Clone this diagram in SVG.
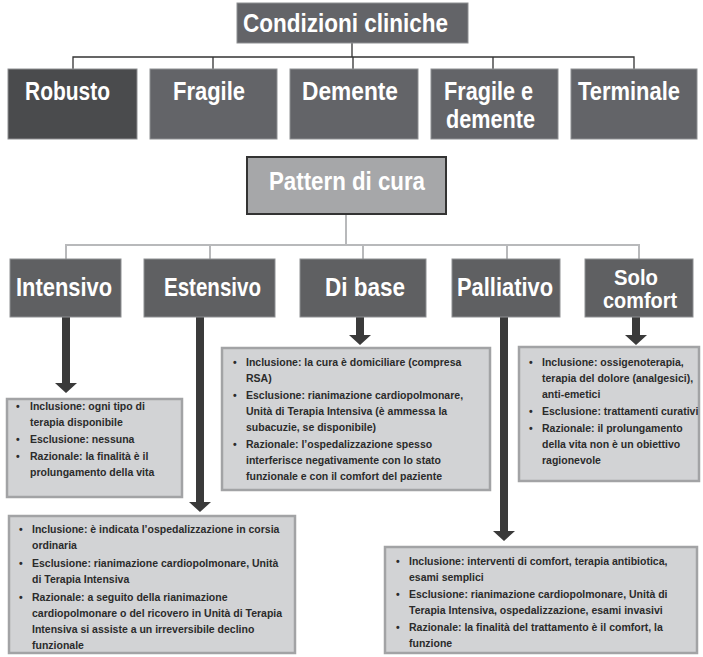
<svg xmlns="http://www.w3.org/2000/svg" width="703" height="657" viewBox="0 0 703 657">
<defs>
<style>
.hd{fill:#636468;stroke:#8e8f92;stroke-width:1}
.dk{fill:#4a4b4d}
.ht{font-family:"Liberation Sans",Arial,sans-serif;font-weight:bold;font-size:25px;fill:#fff}
.sm{font-size:22px}
.cb{fill:#5f6062;stroke:#8e8f92;stroke-width:1}
.tb{fill:#d2d3d5;stroke:#a2a3a5;stroke-width:2.5}
.tx{font-family:"Liberation Sans",Arial,sans-serif;font-size:10.5px;fill:#2b2b2b;font-weight:bold}
.c1{stroke:#333;stroke-width:1.3;fill:none}
.c2{stroke:#b8b9bb;stroke-width:2;fill:none}
.ar{fill:#3a3a3a}
</style>
</defs>
<rect width="703" height="657" fill="#fff"/>
<g id="connectors">
<path class="c1" d="M352 43V57M73 69V57H634V69M213 57V69M353 57V69M493 57V69"/>
<path class="c2" d="M346 214V245M66 259V245H639V259M210 245V259M363 245V259M507 245V259"/>
<path class="ar" d="M62 317h8v66h7l-11 10l-11-10h7z"/>
<path class="ar" d="M196 317h8v185h7l-11 10l-11-10h7z"/>
<path class="ar" d="M356 317h8v18h7l-11 10l-11-10h7z"/>
<path class="ar" d="M500 317h8v214h7l-11 10l-11-10h7z"/>
<path class="ar" d="M632 317h8v18h7l-11 10l-11-10h7z"/>
</g>
<g id="condizioni"><rect class="hd" x="237" y="3" width="231" height="40"/><text class="ht" x="243" y="32" textLength="205" lengthAdjust="spacingAndGlyphs">Condizioni cliniche</text></g>
<g id="robusto"><rect class="hd dk" x="8" y="69" width="129" height="70"/><text class="ht" x="25" y="100" textLength="85" lengthAdjust="spacingAndGlyphs">Robusto</text></g>
<g id="fragile"><rect class="hd" x="150" y="69" width="127" height="70"/><text class="ht" x="173" y="100" textLength="72" lengthAdjust="spacingAndGlyphs">Fragile</text></g>
<g id="demente"><rect class="hd" x="290" y="69" width="128" height="70"/><text class="ht" x="302" y="100" textLength="96" lengthAdjust="spacingAndGlyphs">Demente</text></g>
<g id="fragile-demente"><rect class="hd" x="431" y="69" width="127" height="70"/><text class="ht" x="444" y="100" textLength="89" lengthAdjust="spacingAndGlyphs">Fragile e</text><text class="ht" x="446" y="128" textLength="89" lengthAdjust="spacingAndGlyphs">demente</text></g>
<g id="terminale"><rect class="hd" x="571" y="69" width="126" height="70"/><text class="ht" x="578" y="100" textLength="102" lengthAdjust="spacingAndGlyphs">Terminale</text></g>
<g id="pattern"><rect x="247" y="157" width="199" height="57" fill="#a6a7a9" stroke="#333" stroke-width="2"/><text class="ht" x="269" y="190" textLength="156" lengthAdjust="spacingAndGlyphs">Pattern di cura</text></g>
<g id="intensivo"><rect class="cb" x="10" y="259" width="111" height="58"/><text class="ht" x="16" y="296" textLength="96" lengthAdjust="spacingAndGlyphs">Intensivo</text></g>
<g id="estensivo"><rect class="cb" x="144" y="259" width="131" height="58"/><text class="ht" x="164" y="296" textLength="97" lengthAdjust="spacingAndGlyphs">Estensivo</text></g>
<g id="dibase"><rect class="cb" x="300" y="259" width="126" height="58"/><text class="ht" x="325" y="296" textLength="80" lengthAdjust="spacingAndGlyphs">Di base</text></g>
<g id="palliativo"><rect class="cb" x="452" y="259" width="108" height="58"/><text class="ht" x="457" y="296" textLength="96" lengthAdjust="spacingAndGlyphs">Palliativo</text></g>
<g id="solocomfort"><rect class="cb" x="585" y="259" width="108" height="58"/><text class="ht sm" x="614" y="285" textLength="44" lengthAdjust="spacingAndGlyphs">Solo</text><text class="ht sm" x="603" y="308" textLength="74" lengthAdjust="spacingAndGlyphs">comfort</text></g>
<g id="box-intensivo"><rect class="tb" x="7" y="399" width="175" height="98"/>
<g class="tx"><text x="16" y="410">•</text><text x="30" y="410">Inclusione: ogni tipo di</text><text x="30" y="426">terapia disponibile</text>
<text x="16" y="443">•</text><text x="30" y="443">Esclusione: nessuna</text>
<text x="16" y="460">•</text><text x="30" y="460">Razionale: la finalità è il</text><text x="30" y="476">prolungamento della vita</text></g></g>
<g id="box-dibase"><rect class="tb" x="222" y="348" width="268" height="142"/>
<g class="tx"><text x="233" y="366">•</text><text x="246" y="366">Inclusione: la cura è domiciliare (compresa</text><text x="246" y="382">RSA)</text>
<text x="233" y="399">•</text><text x="246" y="399">Esclusione: rianimazione cardiopolmonare,</text><text x="246" y="415">Unità di Terapia Intensiva (è ammessa la</text><text x="246" y="431">subacuzie, se disponibile)</text>
<text x="233" y="448">•</text><text x="246" y="448">Razionale: l’ospedalizzazione spesso</text><text x="246" y="464">interferisce negativamente con lo stato</text><text x="246" y="480">funzionale e con il comfort del paziente</text></g></g>
<g id="box-solocomfort"><rect class="tb" x="519" y="347" width="180" height="134"/>
<g class="tx"><text x="529" y="366">•</text><text x="542" y="366">Inclusione: ossigenoterapia,</text><text x="542" y="382">terapia del dolore (analgesici),</text><text x="542" y="398">anti-emetici</text>
<text x="529" y="415">•</text><text x="542" y="415">Esclusione: trattamenti curativi</text>
<text x="529" y="432">•</text><text x="542" y="432">Razionale: il prolungamento</text><text x="542" y="448">della vita non è un obiettivo</text><text x="542" y="464">ragionevole</text></g></g>
<g id="box-estensivo"><rect class="tb" x="9" y="516" width="286" height="137"/>
<g class="tx"><text x="19" y="533">•</text><text x="32" y="533">Inclusione: è indicata l’ospedalizzazione in corsia</text><text x="32" y="549">ordinaria</text>
<text x="19" y="567">•</text><text x="32" y="567">Esclusione: rianimazione cardiopolmonare, Unità</text><text x="32" y="583">di Terapia Intensiva</text>
<text x="19" y="601">•</text><text x="32" y="601">Razionale: a seguito della rianimazione</text><text x="32" y="617">cardiopolmonare o del ricovero in Unità di Terapia</text><text x="32" y="633">Intensiva si assiste a un irreversibile declino</text><text x="32" y="649">funzionale</text></g></g>
<g id="box-palliativo"><rect class="tb" x="385" y="547" width="312" height="106"/>
<g class="tx"><text x="396" y="565">•</text><text x="409" y="565">Inclusione: interventi di comfort, terapia antibiotica,</text><text x="409" y="581">esami semplici</text>
<text x="396" y="598">•</text><text x="409" y="598">Esclusione: rianimazione cardiopolmonare, Unità di</text><text x="409" y="614">Terapia Intensiva, ospedalizzazione, esami invasivi</text>
<text x="396" y="631">•</text><text x="409" y="631">Razionale: la finalità del trattamento è il comfort, la</text><text x="409" y="647">funzione</text></g></g>
</svg>
